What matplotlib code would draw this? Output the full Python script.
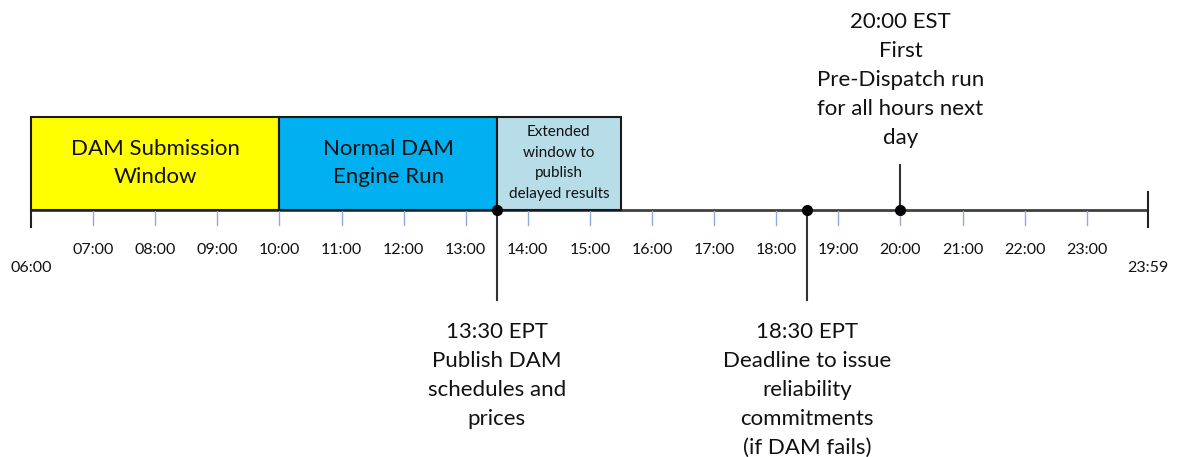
import matplotlib
matplotlib.use("Agg")
import matplotlib.pyplot as plt
from matplotlib.patches import Rectangle

plt.rcParams["font.family"] = ["Lato", "DejaVu Sans"]

# data
hour_labels = ["07:00", "08:00", "09:00", "10:00", "11:00", "12:00", "13:00", "14:00",
               "15:00", "16:00", "17:00", "18:00", "19:00", "20:00", "21:00", "22:00", "23:00"]
start_label = "06:00"
end_label = "23:59"

phase_names = ["DAM Submission\nWindow", "Normal DAM\nEngine Run",
               "Extended\nwindow to\npublish\ndelayed results"]
phase_start = ["06:00", "10:00", "13:30"]
phase_end = ["10:00", "13:30", "15:30"]
phase_colors = ["#FFFF00", "#00B0F0", "#B7DDE8"]

event_times = ["13:30", "18:30", "20:00"]
event_texts = ["13:30 EPT\nPublish DAM\nschedules and\nprices",
               "18:30 EPT\nDeadline to issue\nreliability\ncommitments\n(if DAM fails)",
               "20:00 EST\nFirst\nPre-Dispatch run\nfor all hours next\nday"]
event_side = ["below", "below", "above"]


def to_h(s):
    h, m = s.split(":")
    return int(h) + int(m) / 60


# pixel layout: 06:00 at x=31, 62.1 px per hour; y in pixels from top
PX_H = 62.1
x0 = to_h(start_label) - 31 / PX_H
x1 = to_h(start_label) + (1178 - 31) / PX_H
y_axis = 210

fig = plt.figure(figsize=(11.78, 4.57), dpi=100)
ax = fig.add_axes([0, 0, 1, 1])
ax.set_xlim(x0, x1)
ax.set_ylim(457, 0)
ax.axis("off")

t0 = to_h(start_label)
t1 = to_h(end_label)

# boxes
for name, s, e, c in zip(phase_names, phase_start, phase_end, phase_colors):
    a, b = to_h(s), to_h(e)
    ax.add_patch(Rectangle((a, 117), b - a, y_axis - 117, facecolor=c,
                           edgecolor="#1a1a1a", linewidth=1.5, zorder=2))
    small = name.count("\n") > 1
    ax.text((a + b) / 2, 163, name, ha="center", va="center",
            fontsize=11 if small else 16, linespacing=1.62 if small else 1.55,
            color="#111111", zorder=3)

# main line
ax.plot([t0, t1], [y_axis, y_axis], color="#404040", linewidth=2, zorder=1,
        solid_capstyle="butt")
ax.plot([t0, t0], [y_axis, 227], color="#222222", linewidth=1.5)
ax.plot([t1, t1], [192, 227], color="#222222", linewidth=1.5)

# hour ticks and labels
for lab in hour_labels:
    h = to_h(lab)
    ax.plot([h, h], [y_axis + 1, 225], color="#8FAADC", linewidth=1, zorder=1)
    ax.text(h, 250, lab, ha="center", va="center", fontsize=11.5, color="#111111")
ax.text(t0, 268, start_label, ha="center", va="center", fontsize=11.5, color="#111111")
ax.text(t1, 268, end_label, ha="center", va="center", fontsize=11.5, color="#111111")

# events
for t, txt, side in zip(event_times, event_texts, event_side):
    h = to_h(t)
    n = txt.count("\n") + 1
    if side == "below":
        ax.plot([h, h], [y_axis, 300], color="#333333", linewidth=1.5, zorder=4)
        yc = 332 + (n - 1) * 29 / 2
    else:
        ax.plot([h, h], [y_axis, 165], color="#333333", linewidth=1.5, zorder=4)
        yc = 22 + (n - 1) * 29 / 2
    ax.text(h, yc, txt, ha="center", va="center", fontsize=16,
            linespacing=1.55, color="#111111")
    ax.plot(h, y_axis, "o", color="black", markersize=7, zorder=5)

fig.savefig("out.png", dpi=100)
